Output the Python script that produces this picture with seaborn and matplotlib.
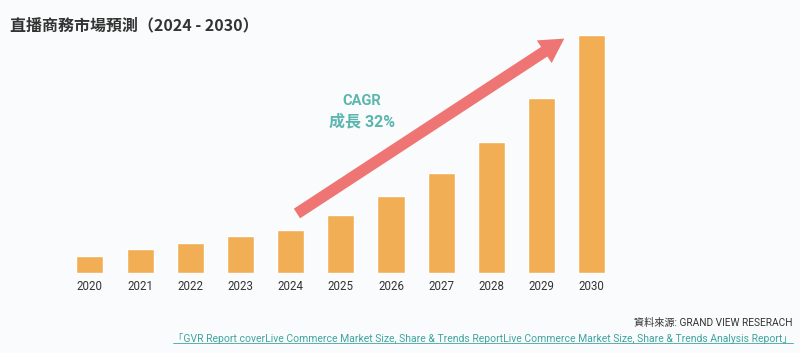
import matplotlib
matplotlib.use("Agg")
import matplotlib.pyplot as plt
import seaborn as sns
import pandas as pd
from matplotlib.patches import FancyArrowPatch
from matplotlib.lines import Line2D

# values (relative market size, no axis shown)
years = ["2020", "2021", "2022", "2023", "2024", "2025", "2026", "2027", "2028", "2029", "2030"]
market = [16.7, 23.7, 29.7, 37.0, 43.4, 57.7, 77.0, 99.7, 131.0, 175.4, 237.7]

title = "直播商務市場預測（2024 - 2030）"
cagr_label = "CAGR"
cagr_value = "成長 32%"
source = "資料來源: GRAND VIEW RESERACH"
link = "「GVR Report coverLive Commerce Market Size, Share & Trends ReportLive Commerce Market Size, Share & Trends Analysis Report」"

df = pd.DataFrame({"year": years, "market": market})

sns.set_theme(style="white")
plt.rcParams["font.family"] = ["Noto Sans CJK TC", "DejaVu Sans"]
latin = ["Roboto", "Noto Sans CJK TC"]

bg = "#FAFBFC"
fig = plt.figure(figsize=(8, 3.53), dpi=100, facecolor=bg)
ax = fig.add_axes([0.081, 0.2266, 0.69, 0.708])
ax.set_facecolor(bg)

sns.barplot(data=df, x="year", y="market", color="#F2AE55", saturation=1,
            width=0.54, ax=ax)

ax.set_ylim(0, 250)
ax.set_xlim(-0.5, len(years) - 0.5)
sns.despine(ax=ax, left=True, bottom=True)
ax.set_yticks([])
ax.set_xlabel("")
ax.set_ylabel("")
ax.tick_params(axis="x", length=0, pad=5, labelsize=8.3, labelcolor="#333333")
for lab in ax.get_xticklabels():
    lab.set_family(latin)

# growth arrow
arrow = FancyArrowPatch((4.08, 58), (9.5, 236),
                        arrowstyle="simple,head_length=1.15,head_width=1.3,tail_width=0.55",
                        mutation_scale=15, color="#EE7573", lw=0, zorder=5)
ax.add_patch(arrow)

ax.text(5.42, 172, cagr_label, ha="center", va="center", fontsize=10.5,
        fontweight="bold", color="#5BB6AE", family=latin)
ax.text(5.42, 152, cagr_value, ha="center", va="center", fontsize=11.5,
        fontweight="bold", color="#5BB6AE", family=latin)

fig.text(10 / 800, 1 - 25 / 353, title, ha="left", va="center", fontsize=11.5,
         fontweight="bold", color="#333333")

fig.text(793 / 800, 1 - 323 / 353, source, ha="right", va="center", fontsize=7.3,
         color="#333333", family=latin)
lt = fig.text(793 / 800, 1 - 338 / 353, link, ha="right", va="center", fontsize=7.5,
              color="#3FA59E", family=latin)

# underline for the link
fig.canvas.draw()
bb = lt.get_window_extent().transformed(fig.transFigure.inverted())
fig.add_artist(Line2D([bb.x0, bb.x1], [bb.y0 + 0.002, bb.y0 + 0.002],
                      transform=fig.transFigure, color="#3FA59E", lw=0.6))

fig.savefig("out.png", dpi=100, facecolor=bg)
